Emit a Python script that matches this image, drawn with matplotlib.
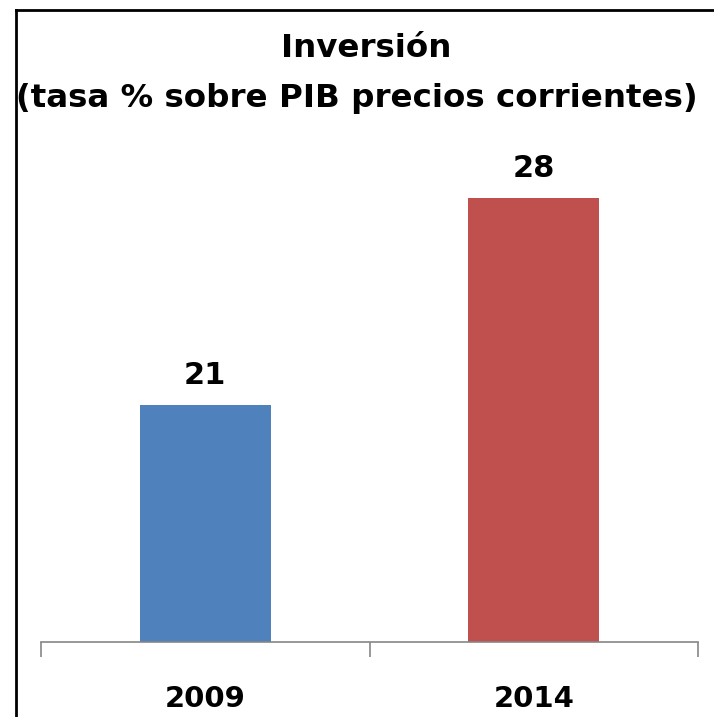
import matplotlib.pyplot as plt
from matplotlib.lines import Line2D

years = ["2009", "2014"]
rates = [21, 28]
colors = ["#4F81BD", "#C0504D"]

plt.rcParams["font.family"] = "DejaVu Sans"

fig = plt.figure(figsize=(7.14, 7.17), dpi=100)
ax = fig.add_axes([41 / 714, 1 - 642 / 717, 657 / 714, 503 / 717])

x = range(len(years))
ax.bar(x, rates, width=0.4, color=colors)
ax.set_xlim(-0.5, 1.5)
ax.set_ylim(13, 30)

for xi, v in zip(x, rates):
    ax.annotate(str(v), (xi, v), xytext=(0, 15), textcoords="offset points",
                ha="center", va="baseline", fontsize=22, fontweight="bold")

for side in ["top", "left", "right"]:
    ax.spines[side].set_visible(False)
ax.spines["bottom"].set_color("#868686")
ax.spines["bottom"].set_linewidth(1.2)
ax.set_yticks([])

ax.set_xticks(list(x))
ax.set_xticklabels(years, fontsize=21, fontweight="bold")
ax.tick_params(axis="x", which="major", length=0, pad=31)
ax.set_xticks([-0.5, 0.5, 1.5], minor=True)
ax.tick_params(axis="x", which="minor", length=11, width=1.2, color="#868686", direction="out")

fig.text(366 / 714, 1 - 57 / 717, "Inversión", ha="center", va="baseline",
         fontsize=23.4, fontweight="bold")
fig.text(357 / 714, 1 - 107 / 717, "(tasa % sobre PIB precios corrientes)", ha="center", va="baseline",
         fontsize=23.4, fontweight="bold")

# frame around the chart (right and bottom fall off the picture)
fig.add_artist(Line2D([16 / 714, 16 / 714], [0, 1 - 10 / 717], color="black", linewidth=2,
                      transform=fig.transFigure))
fig.add_artist(Line2D([16 / 714, 1], [1 - 10 / 717, 1 - 10 / 717], color="black", linewidth=2,
                      transform=fig.transFigure))

fig.savefig("out.png", dpi=100)
